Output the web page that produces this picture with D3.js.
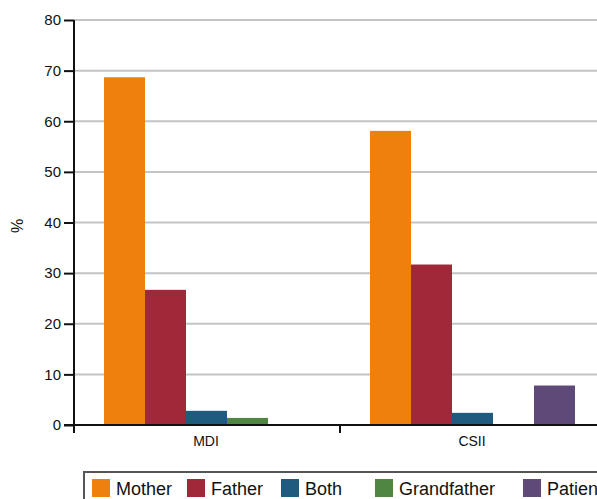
<!DOCTYPE html>
<html>
<head>
<meta charset="utf-8">
<script src="https://cdn.jsdelivr.net/npm/d3@7"></script>
<style>
  body { margin: 0; background: #fff; }
  svg { display: block; font-family: "Liberation Sans", Arial, sans-serif; }
</style>
</head>
<body>
<div id="chart"></div>
<script>
// data
const groups = ["MDI", "CSII"]
const series = ["Mother", "Father", "Both", "Grandfather", "Patient"]
const colors = ["#ef800b", "#a02939", "#1f5a7f", "#4f8642", "#5f4979"]
const mdiValues = [68.7, 26.7, 2.8, 1.4, 0]
const csiiValues = [58.1, 31.7, 2.4, 0, 7.8]
const yTicks = [0, 10, 20, 30, 40, 50, 60, 70, 80]

const W = 597, H = 499
const margin = {top: 20, left: 74, bottom: 74}
const plotBottom = 425

const svg = d3.select('#chart').append('svg')
    .attr('width', W).attr('height', H)

const y = d3.scaleLinear().domain([0, 80]).range([plotBottom, margin.top])

// bands run off the right edge, like the original crop
const x = d3.scaleBand().domain(groups).range([margin.left, 606])
const xs = d3.scaleBand().domain(series)
    .range([30, x.bandwidth() - 31])

// grid
svg.append('g')
    .selectAll('line')
    .data(yTicks.filter(d => d > 0))
    .join('line')
    .attr('x1', margin.left).attr('x2', W)
    .attr('y1', d => y(d)).attr('y2', d => y(d))
    .attr('stroke', '#c4c4c4')
    .attr('stroke-width', 2)

// bars
const rows = groups.map((g, i) => ({group: g, values: [mdiValues, csiiValues][i]}))
svg.append('g')
    .selectAll('g')
    .data(rows)
    .join('g')
    .attr('transform', d => `translate(${x(d.group)},0)`)
    .selectAll('rect')
    .data(d => d.values.map((v, j) => ({key: series[j], value: v, color: colors[j]})))
    .join('rect')
    .filter(d => d.value > 0)
    .attr('x', d => xs(d.key))
    .attr('width', xs.bandwidth())
    .attr('y', d => y(d.value))
    .attr('height', d => y(0) - y(d.value))
    .attr('fill', d => d.color)

// y axis
const yAxis = svg.append('g')
    .attr('transform', `translate(${margin.left},0)`)
    .call(d3.axisLeft(y).tickValues(yTicks).tickSize(10).tickPadding(3))
yAxis.select('.domain').remove()
yAxis.selectAll('.tick line').attr('stroke', '#111').attr('stroke-width', 2)
yAxis.selectAll('.tick text')
    .attr('font-size', 15).attr('fill', '#111')
    .attr('font-family', '"Liberation Sans", Arial, sans-serif')
yAxis.append('line')
    .attr('x1', 0).attr('x2', 0)
    .attr('y1', margin.top).attr('y2', plotBottom + 8)
    .attr('stroke', '#111').attr('stroke-width', 2)

// x axis
const xAxis = svg.append('g')
xAxis.append('line')
    .attr('x1', 64).attr('x2', W)
    .attr('y1', plotBottom).attr('y2', plotBottom)
    .attr('stroke', '#111').attr('stroke-width', 2)
xAxis.selectAll('line.sep')
    .data(groups)
    .join('line')
    .attr('class', 'sep')
    .attr('x1', d => x(d)).attr('x2', d => x(d))
    .attr('y1', plotBottom).attr('y2', plotBottom + 8)
    .attr('stroke', '#111').attr('stroke-width', 2)
xAxis.selectAll('text')
    .data(groups)
    .join('text')
    .attr('x', d => x(d) + x.bandwidth() / 2 - 1)
    .attr('y', 446)
    .attr('text-anchor', 'middle')
    .attr('font-size', 14)
    .attr('fill', '#111')
    .text(d => d)

// y label
svg.append('text')
    .attr('transform', 'translate(23,226) rotate(-90)')
    .attr('text-anchor', 'middle')
    .attr('font-size', 16)
    .attr('fill', '#111')
    .text('%')

// legend
const legendX = [92, 187, 281, 375, 523]
const legend = svg.append('g')
legend.append('rect')
    .attr('x', 84).attr('y', 472)
    .attr('width', W).attr('height', 40)
    .attr('fill', 'none')
    .attr('stroke', '#555').attr('stroke-width', 2)
const item = legend.selectAll('g.item')
    .data(series)
    .join('g')
    .attr('class', 'item')
    .attr('transform', (d, i) => `translate(${legendX[i]},479)`)
item.append('rect')
    .attr('width', 18).attr('height', 18)
    .attr('fill', (d, i) => colors[i])
item.append('text')
    .attr('x', 24).attr('y', 16)
    .attr('font-size', 18)
    .attr('fill', '#111')
    .text(d => d)
</script>
</body>
</html>
